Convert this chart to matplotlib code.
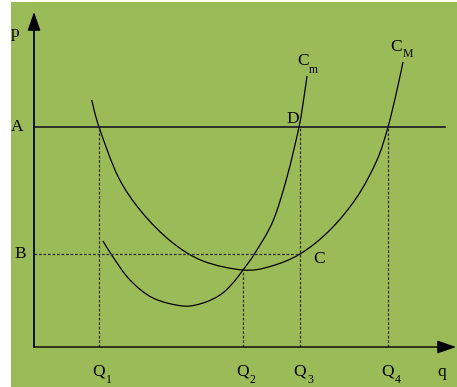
import matplotlib
matplotlib.use('Agg')
import matplotlib.pyplot as plt
from matplotlib.path import Path
from matplotlib.patches import PathPatch

# curves (q, p) with origin at the axes corner
cm_q = [69, 79, 96, 119, 149, 169, 186, 198, 209, 221, 239, 253, 265, 270, 273]
cm_p = [106, 90, 67, 49, 41, 44, 52, 63, 77, 94, 126, 170, 220, 250, 271]
cM_q = [57.7, 65, 84.3, 107.7, 137.7, 169, 209, 236, 266, 296, 323, 343, 354, 363, 369]
cM_p = [247, 220, 170, 135, 105, 86, 77, 80.5, 93, 117, 150, 187, 220, 257, 285]

p_A = 220
p_B = 93
q_vals = [65, 209, 266, 354]
q_tops = [220, 77, 220, 220]
q_subs = ['1', '2', '3', '4']
q_end = 422
p_end = 335
A_end = 411

green = '#9bbb59'
plt.rcParams['font.family'] = ['Liberation Serif', 'DejaVu Serif']


def smooth_curve(ax, xs, ys, **kw):
    # bezier path through the read points (catmull-rom handles)
    pts = list(zip(xs, ys))
    verts = [pts[0]]
    codes = [Path.MOVETO]
    for i in range(len(pts) - 1):
        p0 = pts[i - 1] if i > 0 else pts[i]
        p1 = pts[i]
        p2 = pts[i + 1]
        p3 = pts[i + 2] if i + 2 < len(pts) else pts[i + 1]
        c1 = (p1[0] + (p2[0] - p0[0]) / 6, p1[1] + (p2[1] - p0[1]) / 6)
        c2 = (p2[0] - (p3[0] - p1[0]) / 6, p2[1] - (p3[1] - p1[1]) / 6)
        verts += [c1, c2, p2]
        codes += [Path.CURVE4] * 3
    ax.add_patch(PathPatch(Path(verts, codes), fill=False, **kw))


fig = plt.figure(figsize=(4.57, 3.87), dpi=100, facecolor='white')
ax = fig.add_axes([11 / 457, 0, 446 / 457, 385 / 387])
ax.set_facecolor(green)
ax.set_xlim(-23, 423)
ax.set_ylim(-40, 345)
for s in ax.spines.values():
    s.set_visible(False)
ax.set_xticks([])
ax.set_yticks([])

# axes with arrows
ax.annotate('', xy=(q_end, 0), xytext=(0, 0),
            arrowprops=dict(arrowstyle='-|>,head_length=1.15,head_width=0.4',
                            color='black', lw=1.0, shrinkA=0, shrinkB=0,
                            mutation_scale=10))
ax.annotate('', xy=(0, p_end), xytext=(0, 0),
            arrowprops=dict(arrowstyle='-|>,head_length=1.15,head_width=0.4',
                            color='black', lw=1.0, shrinkA=0, shrinkB=0,
                            mutation_scale=10))
ax.plot([0, 0], [0, p_end - 16], color='#3a4a2b', lw=1.4)

# price levels
ax.plot([0, A_end], [p_A, p_A], color='#1a1a1a', lw=1.2)
ax.plot([0, q_vals[2]], [p_B, p_B], color='#333333', lw=0.9, dashes=[2.2, 1.4])
for q, top in zip(q_vals, q_tops):
    ax.plot([q, q], [0, top], color='#333333', lw=0.9, dashes=[2.2, 1.4])

# cost curves
smooth_curve(ax, cm_q, cm_p, edgecolor='black', lw=0.9)
smooth_curve(ax, cM_q, cM_p, edgecolor='black', lw=0.9)

fs = 12.5
sub = 8.5
ax.text(-19, 314, 'p', fontsize=fs, ha='center', va='center')
ax.text(-17, p_A, 'A', fontsize=fs, ha='center', va='center')
ax.text(-14, p_B, 'B', fontsize=fs, ha='center', va='center')
for q, s in zip(q_vals, q_subs):
    ax.text(q, -25, 'Q', fontsize=fs, ha='center', va='center')
    ax.text(q + 7, -33, s, fontsize=sub, ha='left', va='center')
ax.text(408, -25, 'q', fontsize=fs, ha='center', va='center')
ax.text(269, 286, 'C', fontsize=fs, ha='center', va='center')
ax.text(275, 277, 'm', fontsize=sub, ha='left', va='center')
ax.text(362.5, 300, 'C', fontsize=fs, ha='center', va='center')
ax.text(369, 293, 'M', fontsize=sub, ha='left', va='center')
ax.text(258.5, 228, 'D', fontsize=fs, ha='center', va='center')
ax.text(285, 88, 'C', fontsize=fs, ha='center', va='center')

fig.savefig('out.png', dpi=100, facecolor='white')
